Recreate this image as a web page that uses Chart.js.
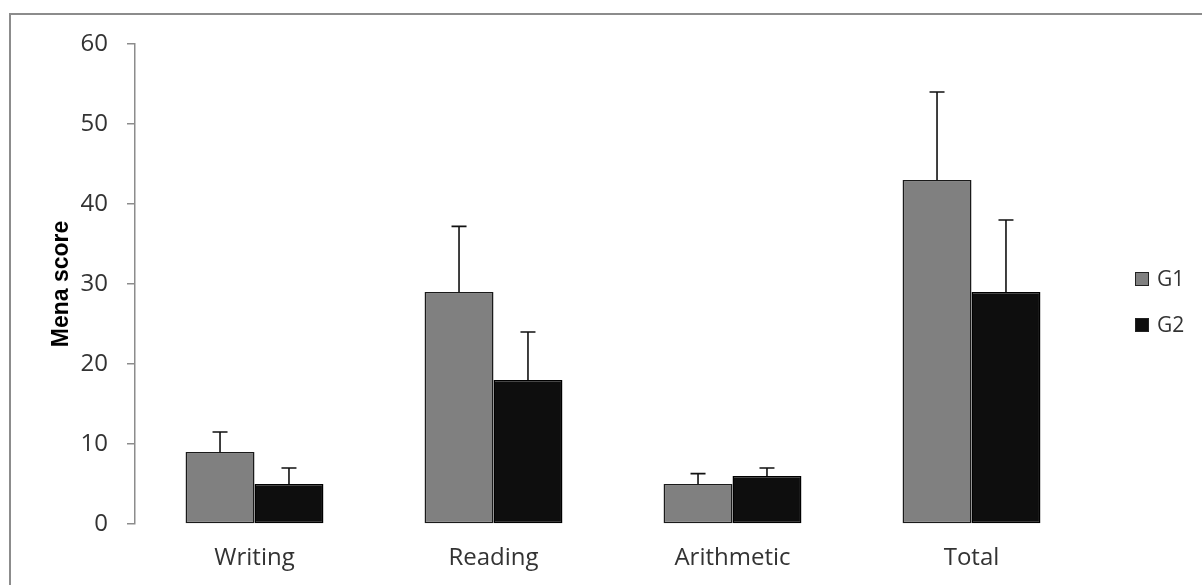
<!DOCTYPE html>
<html>
<head>
<meta charset="utf-8">
<title>Mean scores by group</title>
<script src="https://cdn.jsdelivr.net/npm/chart.js@4.4.0/dist/chart.umd.min.js"></script>
<style>
    html, body { margin: 0; padding: 0; background: #fff; overflow: hidden; }
    #wrap { position: relative; width: 1202px; height: 585px; }
    #frame {
        position: absolute; left: 9px; top: 13px; width: 1300px; height: 700px;
        border-left: 2px solid #8c8c8c; border-top: 2px solid #8c8c8c;
    }
    canvas { position: absolute; left: 0; top: 0; }
</style>
</head>
<body>
<div id="wrap">
    <div id="frame"></div>
    <canvas id="scoreChart" width="1202" height="585"></canvas>
</div>
<script>
// Data
const categories = ['Writing', 'Reading', 'Arithmetic', 'Total'];
const seriesNames = ['G1', 'G2'];
const g1Means = [9, 29, 5, 43];
const g1Errors = [2.5, 8.2, 1.3, 11];
const g2Means = [5, 18, 6, 29];
const g2Errors = [2, 6, 1, 9];
const yTickValues = [0, 10, 20, 30, 40, 50, 60];

const labelFont = "'Open Sans', sans-serif";

// Upward-only error bars with a cap, drawn through the y scale
const errorBarPlugin = {
    id: 'errorBars',
    afterDatasetsDraw(chart) {
        const { ctx, scales: { y } } = chart;
        chart.data.datasets.forEach((ds, i) => {
            const meta = chart.getDatasetMeta(i);
            meta.data.forEach((bar, j) => {
                const top = y.getPixelForValue(ds.data[j] + ds.errors[j]);
                ctx.save();
                ctx.strokeStyle = '#111';
                ctx.lineWidth = 1.6;
                ctx.beginPath();
                ctx.moveTo(bar.x, bar.y);
                ctx.lineTo(bar.x, top);
                ctx.moveTo(bar.x - 7.5, top);
                ctx.lineTo(bar.x + 7.5, top);
                ctx.stroke();
                ctx.restore();
            });
        });
    }
};

// Legend to the right of the plot, Excel style
const sideLegendPlugin = {
    id: 'sideLegend',
    afterDraw(chart) {
        const { ctx, chartArea } = chart;
        const mid = (chartArea.top + chartArea.bottom) / 2;
        chart.data.datasets.forEach((ds, i) => {
            const cy = mid - 5 + i * 46;
            const x = chartArea.right + 44;
            ctx.save();
            ctx.fillStyle = ds.backgroundColor;
            ctx.strokeStyle = '#222';
            ctx.lineWidth = 1;
            ctx.fillRect(x, cy - 7, 14, 14);
            ctx.strokeRect(x + 0.5, cy - 6.5, 13, 13);
            ctx.fillStyle = '#333';
            ctx.font = `21px ${labelFont}`;
            ctx.textBaseline = 'middle';
            ctx.fillText(ds.label, x + 22, cy + 1);
            ctx.restore();
        });
    }
};

const createScoreChart = () => {
    const ctx = document.getElementById('scoreChart').getContext('2d');
    new Chart(ctx, {
        type: 'bar',
        data: {
            labels: categories,
            datasets: [
                {
                    label: seriesNames[0],
                    data: g1Means,
                    errors: g1Errors,
                    backgroundColor: '#808080',
                    borderColor: '#1a1a1a',
                    borderWidth: 1.5,
                    borderSkipped: false
                },
                {
                    label: seriesNames[1],
                    data: g2Means,
                    errors: g2Errors,
                    backgroundColor: '#0e0e0e',
                    borderColor: '#000',
                    borderWidth: 1.5,
                    borderSkipped: false
                }
            ]
        },
        options: {
            responsive: false,
            animation: false,
            layout: { padding: { left: 44, top: 44, right: 111, bottom: 0 } },
            datasets: {
                bar: { categoryPercentage: 0.577, barPercentage: 1 }
            },
            plugins: {
                legend: { display: false },
                tooltip: { enabled: false }
            },
            scales: {
                x: {
                    afterFit: (scale) => { scale.height = 61; },
                    grid: { display: false, drawTicks: false },
                    border: { display: false },
                    ticks: {
                        padding: 20,
                        color: '#333',
                        font: { family: labelFont, size: 24 }
                    }
                },
                y: {
                    min: yTickValues[0],
                    max: yTickValues[yTickValues.length - 1],
                    afterFit: (scale) => { scale.width = 91; },
                    afterBuildTicks: (scale) => {
                        scale.ticks = yTickValues.map(v => ({ value: v }));
                    },
                    grid: {
                        drawOnChartArea: false,
                        drawTicks: true,
                        tickLength: 8,
                        color: '#8c8c8c',
                        lineWidth: 1.5
                    },
                    border: { display: true, color: '#8c8c8c', width: 1.5 },
                    ticks: {
                        padding: 19,
                        color: '#333',
                        font: { family: labelFont, size: 24 }
                    },
                    title: {
                        display: true,
                        text: 'Mena score',
                        color: '#000',
                        font: { family: "'Liberation Sans', Arial, sans-serif", size: 23, weight: 'bold' }
                    }
                }
            }
        },
        plugins: [errorBarPlugin, sideLegendPlugin]
    });
};

createScoreChart();
</script>
</body>
</html>
